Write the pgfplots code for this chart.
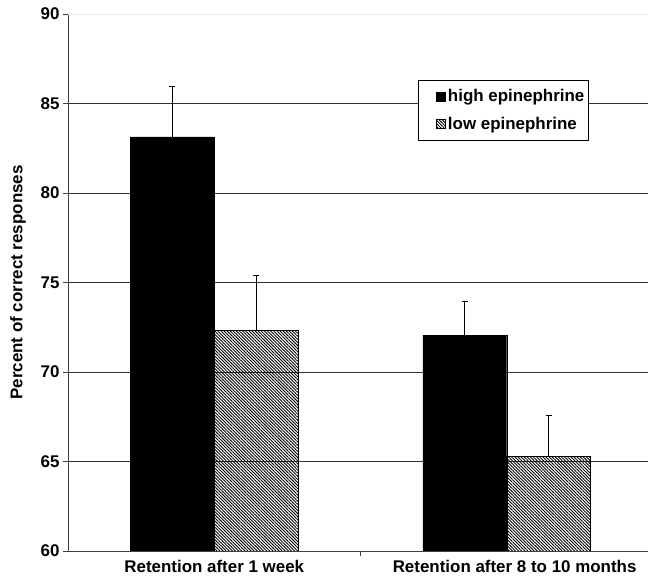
\documentclass[border=0pt]{standalone}
\usepackage{fontspec}
\setmainfont{Liberation Sans}
\usepackage{pgfplots}
\pgfplotsset{compat=1.18}
\usetikzlibrary{patterns.meta}

\newcommand{\lblfont}{\fontsize{17}{19}\selectfont\bfseries}

\begin{document}
\begin{tikzpicture}
\begin{axis}[
    scale only axis,
    width=580bp,
    height=537bp,
    xmin=0, xmax=1.983,
    ymin=60, ymax=90,
    ybar=0pt,
    bar width=0.287,
    axis x line*=bottom,
    axis y line*=left,
    axis line style={black!75, line width=0.9bp},
    tick align=outside,
    major tick length=5bp,
    tick style={black!75, line width=0.9bp},
    ytick={60,65,...,85},
    extra y ticks={90},
    extra y tick style={grid style={black!8, line width=0.9bp}},
    ymajorgrids,
    grid style={black!80, line width=0.9bp},
    xtick={1},
    xticklabels={},
    extra x ticks={0.5,1.527},
    extra x tick labels={Retention after 1 week,Retention after 8 to 10 months},
    extra x tick style={major tick length=0pt, xticklabel style={yshift=-6bp}},
    ticklabel style={font=\lblfont},
    /pgf/number format/assume math mode=true,
    ylabel={Percent of correct responses},
    ylabel style={at={(axis description cs:-0.0862,0.5)}, anchor=center, font=\lblfont},
    legend style={at={(rel axis cs:0.898,0.877)}, anchor=north east,
        draw=black, line width=0.9bp, font=\lblfont,
        inner xsep=2bp, inner ysep=7bp, row sep=10bp},
    legend cell align=left,
    legend image code/.code={\path (0bp,0bp) (25bp,0bp);
        \draw[#1, draw=black, line width=0.4bp] (16bp,-4.5bp) rectangle (25bp,4.5bp);},
]
\addplot[fill=black, draw=black,
    error bars/.cd, y dir=plus, y explicit,
    error bar style={black, line width=0.9bp},
    error mark options={black, line width=0.9bp, mark size=3bp, rotate=90}]
    coordinates {(0.5,83.14) +- (0,2.79) (1.5,72.05) +- (0,1.88)};
\addplot[draw=black, line width=0.9bp,
    pattern={Lines[angle=-45, distance=2.2bp, line width=0.9bp]}, pattern color=black,
    error bars/.cd, y dir=plus, y explicit,
    error bar style={black, line width=0.9bp},
    error mark options={black, line width=0.9bp, mark size=3bp, rotate=90}]
    coordinates {(0.5,72.31) +- (0,3.08) (1.5,65.28) +- (0,2.28)};
\legend{high epinephrine,low epinephrine}
\end{axis}
\pgfresetboundingbox
\path[use as bounding box] ([xshift=-68bp,yshift=-32bp]current axis.south west)
    rectangle ([yshift=14bp]current axis.north east);
\end{tikzpicture}
\end{document}
